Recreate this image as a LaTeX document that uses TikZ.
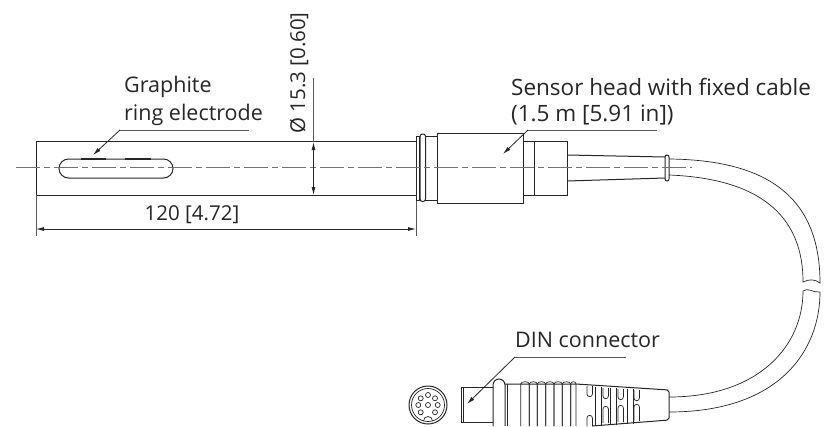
\documentclass[tikz,border=0pt]{standalone}
\usepackage{fontspec}
\setmainfont{Open Sans}
\usetikzlibrary{arrows.meta}

\begin{document}
\begin{tikzpicture}[x=1pt,y=-1pt]
\tikzstyle{main}=[line width=1pt, draw=black!85]
\tikzstyle{thin}=[line width=0.7pt, draw=black!85]
\tikzstyle{axis}=[line width=1.2pt, draw=black!55, dash pattern=on 24pt off 4pt on 6pt off 4pt]
\tikzstyle{leader}=[line width=0.9pt, draw=black!65]
\tikzstyle{connect}=[-{Latex[length=8pt,width=4pt]}, line width=0.8pt, draw=black!85]
\tikzstyle{dim}=[{Latex[length=8pt,width=4pt]}-{Latex[length=8pt,width=4pt]}, line width=0.8pt, draw=black!85]
\tikzstyle{caption}=[font=\fontsize{21.5}{25}\selectfont, text=black!85, inner sep=0pt, anchor=west, align=left]
\tikzstyle{bigcaption}=[caption, font=\fontsize{22.5}{25}\selectfont]
\tikzstyle{dimtext}=[caption, font=\fontsize{20.5}{25}\selectfont, anchor=center]
  \useasboundingbox (0,0) rectangle (824,426);
  % sensor tube
  \draw[main] (416,141.5) -- (36,141.5) -- (36,195) -- (416,195);
  \draw[main, rounded corners=9.5pt] (59,159) rectangle (173,178);
  \draw[line width=1.4pt, black!85] (81,159) -- (106,159) (125,159) -- (151,159);
  % head
  \draw[main] (416,136) rectangle (437,200);
  \draw[thin] (419,136) -- (419,200);
  \draw[main, fill=white, rounded corners=2.5pt] (420,134) rectangle (425.5,201.5);
  \draw[main] (437,133) rectangle (523,203);
  \draw[main] (523,141) rectangle (567,195);
  \draw[main] (534,141) -- (534,195);
  \draw[main] (567,155) -- (665,157) (567,181) -- (665,178);
  \draw[main, rounded corners=2pt] (665,155) rectangle (669,181);
  % cable
  \draw[thin] (669,159) .. controls (765,160) and (820,195) .. (820,283)
              .. controls (815,279) and (809,279) .. (803,282)
              .. controls (803,205) and (745,178) .. (669,175);
  \draw[thin] (820,292) .. controls (820,350) and (780,412) .. (669,412);
  \draw[thin] (803,291) .. controls (803,345) and (760,397) .. (669,397);
  \draw[thin] (803,291) .. controls (808,287) and (813,293) .. (820,292);
  % connector face
  \draw[main] (428,405) circle (19);
  \draw[thin] (428,405) circle (16.5);
  \foreach \px/\py in {-7.3/-6.7, 0/-10, 7/-6.7, -9.7/0, 0/0, 9.7/0, -7.3/7.3, 7/7.3}
    \draw[thin] (428+\px,405+\py) circle (2.5);
  \draw[thin] (423.5,421) arc (180:360:4.5 and 4.5);
  % connector plug
  \draw[main] (493,387) -- (461,387) -- (461,422) -- (493,422);
  \draw[thin] (463,387) -- (463,422);
  \draw[main] (493,426) -- (493,385) arc (180:0:6 and -6) -- (505,426);
  \draw[thin] (507,384) -- (507,426);
  \draw[main, rounded corners=2pt] (505,384) -- (576,384) -- (669,390) -- (669,420) -- (592,426);
  \foreach \rx/\ry in {520.7/529.3, 529.3/537.3, 537.3/545.7, 545.7/554, 554/562.3, 562.3/570.7, 570.7/576}
    \draw[thin] (\rx,426) -- (\rx,384) .. controls (\rx,381) and (\ry,381) .. (\ry,384) -- (\ry,426);
  % grip slots
  \foreach \sx/\sy in {587/386, 603/388, 618/389, 634/390}
    \draw[thin] (\sx,\sy) -- (\sx,\sy+8) arc (180:0:2.7 and 2.7) -- (\sx+5.4,\sy);
  \foreach \sx/\sy in {603/423, 618/422, 634/421}
    \draw[thin] (\sx,\sy) -- (\sx,\sy-14) arc (180:0:2.7 and -2.7) -- (\sx+5.4,\sy);
  \draw[thin] (587,426) -- (587,418) arc (180:0:2.7 and -2.7) -- (592.4,426);
  \foreach \fx/\ft/\fb in {595/387/426, 610.7/388/424.5, 627/389/423.5}
    \draw[thin] (\fx,\ft) -- (\fx,\fb) (\fx+6,\ft) -- (\fx+6,\fb);
  % centre line
  \coordinate (axisL) at (16,167.5);
  \coordinate (axisR) at (692,167.5);
  \draw[axis] (axisL) -- (axisR);
  % dimensions
  \coordinate (lenL) at (36,229);
  \coordinate (lenR) at (416,229);
  \coordinate (lenLe) at (36,236);
  \coordinate (lenRe) at (416,236);
  \coordinate (tubeL) at (36,195);
  \coordinate (tubeR) at (416,201);
  \draw[leader] (tubeL) -- (lenLe) (tubeR) -- (lenRe);
  \draw[dim] (lenL) -- (lenR);
  \coordinate (diaT) at (313.5,142);
  \coordinate (diaB) at (313.5,195);
  \coordinate (diaE) at (313.5,78);
  \draw[leader] (diaE) -- (diaT);
  \draw[dim] (diaT) -- (diaB);
  \node[dimtext] (len) at (192,215) {120 [4.72]};
  \node[dimtext, rotate=90] (dia) at (299,73) {Ø 15.3 [0.60]};
  % labels
  \node[caption] (graphite) at (124,87) {Graphite};
  \node[caption] (ring) at (124,115) {ring electrode};
  \node[bigcaption] (head) at (511,87) {Sensor head with fixed cable};
  \node[bigcaption] (cable) at (511,115) {(1.5 m [5.91 in])};
  \node[caption] (din) at (515,340) {DIN connector};
  \coordinate (ringA) at (249,130);
  \coordinate (ringB) at (120,130);
  \coordinate (ringC) at (93,155);
  \coordinate (headA) at (657,130);
  \coordinate (headB) at (528,130);
  \coordinate (headC) at (503,154);
  \coordinate (dinA) at (626,357);
  \coordinate (dinB) at (515,357);
  \coordinate (dinC) at (467,404);
  \draw[leader] (ringA) -- (ringB);
  \draw[connect] (ringB) -- (ringC);
  \draw[leader] (headA) -- (headB);
  \draw[connect] (headB) -- (headC);
  \draw[leader] (dinA) -- (dinB);
  \draw[connect] (dinB) -- (dinC);
\end{tikzpicture}
\end{document}
